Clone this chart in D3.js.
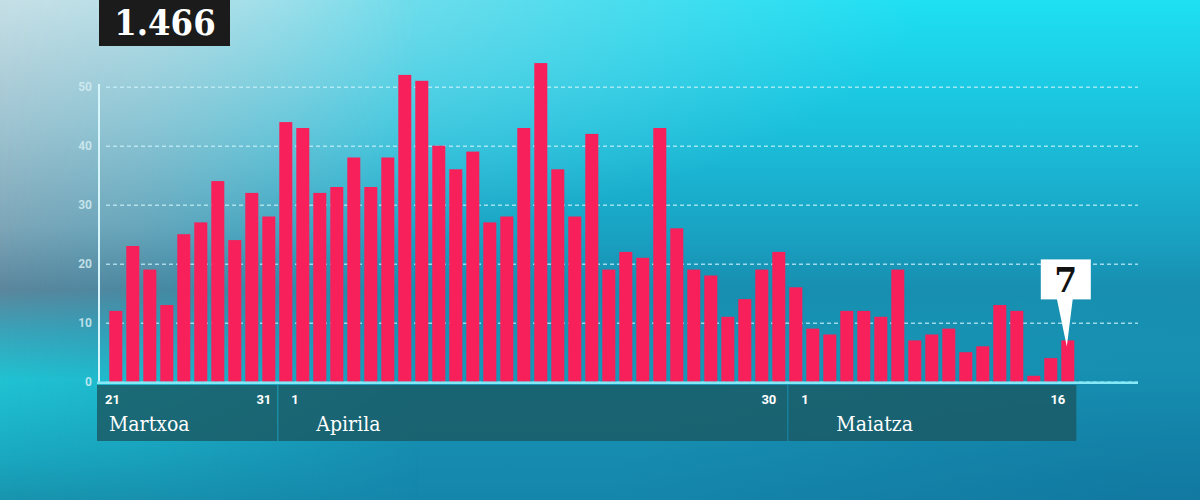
<!DOCTYPE html>
<html>
<head>
<meta charset="utf-8">
<script src="https://cdn.jsdelivr.net/npm/d3@7"></script>
<style>
  html, body { margin: 0; padding: 0; overflow: hidden; background: #1a9cbc; }
</style>
</head>
<body>
<div id="chart"></div>
<script>
// daily new cases, 21 March - 16 May
const cases = [12, 23, 19, 13, 25, 27, 34, 24, 32, 28,
               44, 43, 32, 33, 38, 33, 38, 52, 51, 40,
               36, 39, 27, 28, 43, 54, 36, 28, 42, 19,
               22, 21, 43, 26, 19, 18, 11, 14, 19, 22,
               16, 9, 8, 12, 12, 11, 19, 7, 8, 9,
               5, 6, 13, 12, 1, 4, 7];

const monthNames = ['Martxoa', 'Apirila', 'Maiatza'];
const monthFirstDay = ['21', '1', '1'];
const monthLastDay = ['31', '30', '16'];
const monthBarCounts = [10, 30, 17];

const yTicks = [0, 10, 20, 30, 40, 50];
const totalLabel = '1.466';

const width = 1200;
const height = 500;

const svg = d3.select('#chart').append('svg')
  .attr('width', width)
  .attr('height', height);

// background
const defs = svg.append('defs');

function addStops(grad, stops) {
  stops.forEach(s => {
    grad.append('stop')
      .attr('offset', s[0])
      .attr('stop-color', s[1])
      .attr('stop-opacity', s[2] === undefined ? 1 : s[2]);
  });
}

const baseGrad = defs.append('linearGradient')
  .attr('id', 'bg-base').attr('x1', 0).attr('y1', 0).attr('x2', 0).attr('y2', 1);
addStops(baseGrad, [['0%', '#1ee0f3'], ['28%', '#1bbdd9'], ['48%', '#19a0c1'],
  ['58%', '#178eaf'], ['74%', '#1897b7'], ['100%', '#1586ab']]);

const leftGrad = defs.append('linearGradient')
  .attr('id', 'bg-left').attr('x1', 0).attr('y1', 0).attr('x2', 0).attr('y2', 1);
addStops(leftGrad, [['0%', '#c6dfe6'], ['25%', '#9fc3d0'], ['45%', '#7ea6b8'],
  ['58%', '#5b869c'], ['66%', '#3aa2b8'], ['76%', '#20c2d2'], ['90%', '#1aabc2'], ['100%', '#1894ae']]);

const fadeGrad = defs.append('linearGradient')
  .attr('id', 'bg-fade').attr('x1', 0).attr('y1', 0).attr('x2', 1).attr('y2', 0);
addStops(fadeGrad, [['0%', '#fff', 1], ['12%', '#fff', 0.75], ['35%', '#fff', 0]]);

defs.append('mask').attr('id', 'left-mask')
  .append('rect').attr('width', width).attr('height', height).attr('fill', 'url(#bg-fade)');

const topWash = defs.append('radialGradient')
  .attr('id', 'bg-top')
  .attr('gradientUnits', 'userSpaceOnUse')
  .attr('cx', 0).attr('cy', 0).attr('r', 1)
  .attr('gradientTransform', 'translate(120,-40) scale(820,300)');
addStops(topWash, [['0%', '#c4e4ec', 0.85], ['45%', '#9ad9e6', 0.55], ['100%', '#7fd8ea', 0]]);

const bottomShade = defs.append('radialGradient')
  .attr('id', 'bg-bottom')
  .attr('gradientUnits', 'userSpaceOnUse')
  .attr('cx', 0).attr('cy', 0).attr('r', 1)
  .attr('gradientTransform', 'translate(1200,520) scale(600,220)');
addStops(bottomShade, [['0%', '#0f6e98', 0.6], ['100%', '#0f6e98', 0]]);

svg.append('rect').attr('width', width).attr('height', height).attr('fill', 'url(#bg-base)');
svg.append('rect').attr('width', width).attr('height', height).attr('fill', 'url(#bg-top)');
svg.append('rect').attr('width', width).attr('height', height).attr('fill', 'url(#bg-bottom)');
svg.append('rect').attr('width', width).attr('height', height)
  .attr('fill', 'url(#bg-left)').attr('mask', 'url(#left-mask)');

// scales
const yScale = d3.scaleLinear()
  .domain([0, 50])
  .range([381.7, 86.7]);

const xScale = d3.scaleBand()
  .domain(d3.range(cases.length))
  .range([107.3, 1076.3])
  .paddingInner(0.235)
  .paddingOuter(0.1175);

const gridLeft = 106;
const gridRight = 1138;
const axisX = 99;

// grid + tick labels
const yAxis = d3.axisLeft(yScale)
  .tickValues(yTicks)
  .tickSizeInner(-(gridRight - gridLeft))
  .tickSizeOuter(0)
  .tickPadding(14);

const yG = svg.append('g')
  .attr('class', 'y axis')
  .attr('transform', 'translate(' + gridLeft + ',0)')
  .call(yAxis);

yG.select('.domain').remove();
yG.selectAll('.tick line')
  .style('stroke', '#c9f1fa')
  .style('stroke-opacity', 0.75)
  .style('stroke-width', '1.4px')
  .style('stroke-dasharray', '4,3');
yG.selectAll('.tick text')
  .style('fill', '#d4edf3')
  .style('fill-opacity', 0.85)
  .style('font-family', 'Roboto, sans-serif')
  .style('font-weight', 700)
  .style('font-size', '12px');

// bars
svg.selectAll('rect.bar')
  .data(cases)
  .enter().append('rect')
    .attr('class', 'bar')
    .attr('x', (d, i) => xScale(i))
    .attr('width', xScale.bandwidth())
    .attr('y', d => yScale(d))
    .attr('height', d => yScale(0) - yScale(d))
    .style('fill', '#f7205a');

// axes lines
svg.append('line')
  .attr('x1', axisX).attr('x2', axisX)
  .attr('y1', 84).attr('y2', yScale(0))
  .style('stroke', '#d6f6fb')
  .style('stroke-width', '2px');

svg.append('line')
  .attr('x1', axisX - 2).attr('x2', gridRight)
  .attr('y1', yScale(0) + 1).attr('y2', yScale(0) + 1)
  .style('stroke', '#86e9f7')
  .style('stroke-width', '2.5px');

// month panels
const step = xScale.step();
let startIdx = 0;
const panels = monthBarCounts.map((n, m) => {
  const first = startIdx;
  const last = startIdx + n - 1;
  startIdx += n;
  const left = m === 0 ? axisX - 2 : xScale(first) - 1;
  const right = xScale(last) + step - 2;
  return { m, left, right };
});

const labelInset = [12, 38, 48];
const panelTop = 385;
const panelBottom = 441;

const pG = svg.append('g').attr('class', 'months');

pG.selectAll('rect')
  .data(panels)
  .enter().append('rect')
    .attr('x', d => d.left)
    .attr('y', panelTop)
    .attr('width', d => d.right - d.left)
    .attr('height', panelBottom - panelTop)
    .style('fill', '#1a5862')
    .style('fill-opacity', 0.8);

pG.selectAll('text.first')
  .data(panels)
  .enter().append('text')
    .attr('class', 'first')
    .attr('x', d => d.left + (d.m === 0 ? 8 : 13))
    .attr('y', 404)
    .text(d => monthFirstDay[d.m]);

pG.selectAll('text.last')
  .data(panels)
  .enter().append('text')
    .attr('class', 'last')
    .attr('x', d => d.right - (d.m === 0 ? 6 : 11))
    .attr('y', 404)
    .attr('text-anchor', 'end')
    .text(d => monthLastDay[d.m]);

pG.selectAll('text.first, text.last')
  .style('fill', '#ffffff')
  .style('font-family', 'Roboto, sans-serif')
  .style('font-weight', 700)
  .style('font-size', '13px');

pG.selectAll('text.name')
  .data(panels)
  .enter().append('text')
    .attr('class', 'name')
    .attr('x', d => d.left + labelInset[d.m])
    .attr('y', 431)
    .text(d => monthNames[d.m])
    .style('fill', '#ffffff')
    .style('font-family', '"DejaVu Serif Condensed", "DejaVu Serif", serif')
    .style('font-size', '21px');

// callout on last bar
const lastIdx = cases.length - 1;
const cx = xScale(lastIdx) + xScale.bandwidth() / 2;
const barTop = yScale(cases[lastIdx]);
const boxBottom = barTop - 41;
const boxTop = boxBottom - 40;

const cG = svg.append('g').attr('class', 'callout');
cG.append('path')
  .attr('d', 'M' + (cx - 11) + ',' + (boxBottom - 1) +
             'L' + (cx - 1) + ',' + (barTop + 6) +
             'L' + (cx + 5) + ',' + (boxBottom - 1) + 'Z')
  .style('fill', '#ffffff');
cG.append('rect')
  .attr('x', cx - 27)
  .attr('y', boxTop)
  .attr('width', 50)
  .attr('height', boxBottom - boxTop)
  .style('fill', '#ffffff');
cG.append('text')
  .attr('x', cx - 2)
  .attr('y', boxBottom - 7)
  .attr('text-anchor', 'middle')
  .text(cases[lastIdx])
  .style('fill', '#111111')
  .style('font-family', '"DejaVu Serif", serif')
  .style('font-weight', 700)
  .style('font-size', '33px');

// total box
const tG = svg.append('g').attr('class', 'total');
tG.append('rect')
  .attr('x', 99).attr('y', 0)
  .attr('width', 131).attr('height', 46)
  .style('fill', '#1b1b1b');
tG.append('text')
  .attr('x', 165).attr('y', 35)
  .attr('text-anchor', 'middle')
  .text(totalLabel)
  .style('fill', '#ffffff')
  .style('font-family', '"DejaVu Serif Condensed", "DejaVu Serif", serif')
  .style('font-weight', 700)
  .style('font-size', '36px');
</script>
</body>
</html>
